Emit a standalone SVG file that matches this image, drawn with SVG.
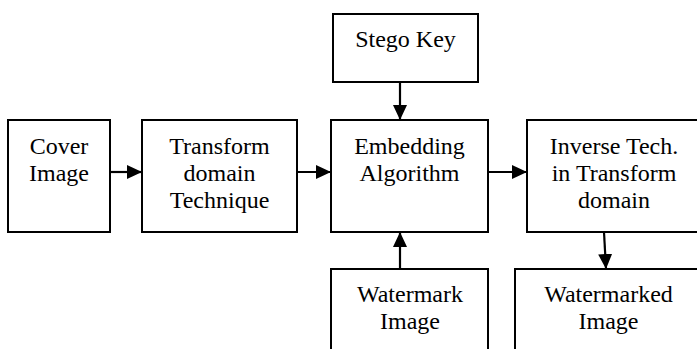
<svg xmlns="http://www.w3.org/2000/svg" width="697" height="349" viewBox="0 0 697 349">
<style>
.box{fill:#fff;stroke:#000;stroke-width:2}
.lbl{font-family:"Liberation Serif","Times New Roman",serif;font-size:24px;fill:#000;text-anchor:middle}
.conn{stroke:#000;stroke-width:2.2;fill:none;marker-end:url(#ah)}
</style>
<defs>
<marker id="ah" markerUnits="userSpaceOnUse" markerWidth="16" markerHeight="16" refX="15" refY="7" orient="auto">
<path d="M0,0 L15,7 L0,14 Z" fill="#000"/>
</marker>
</defs>
<rect width="697" height="349" fill="#fff"/>
<g id="cover">
<rect class="box" x="8" y="120" width="102" height="112"/>
<text class="lbl" x="59" y="154">Cover</text>
<text class="lbl" x="59" y="181">Image</text>
</g>
<g id="transform">
<rect class="box" x="142" y="120" width="155" height="112"/>
<text class="lbl" x="219.5" y="154">Transform</text>
<text class="lbl" x="219.5" y="181">domain</text>
<text class="lbl" x="219.5" y="208">Technique</text>
</g>
<g id="stego">
<rect class="box" x="333" y="14" width="145" height="68"/>
<text class="lbl" x="405.5" y="47">Stego Key</text>
</g>
<g id="embedding">
<rect class="box" x="331" y="120" width="157" height="112"/>
<text class="lbl" x="409.5" y="154">Embedding</text>
<text class="lbl" x="409.5" y="181">Algorithm</text>
</g>
<g id="inverse">
<rect class="box" x="527" y="120" width="174" height="112"/>
<text class="lbl" x="614" y="154">Inverse Tech.</text>
<text class="lbl" x="614" y="181">in Transform</text>
<text class="lbl" x="614" y="208">domain</text>
</g>
<g id="watermark">
<rect class="box" x="331" y="269" width="157" height="100"/>
<text class="lbl" x="410" y="302">Watermark</text>
<text class="lbl" x="410" y="329">Image</text>
</g>
<g id="watermarked">
<rect class="box" x="515" y="269" width="187" height="100"/>
<text class="lbl" x="608.5" y="302">Watermarked</text>
<text class="lbl" x="608.5" y="329">Image</text>
</g>
<g id="connectors">
<line class="conn" x1="110" y1="172" x2="142" y2="172"/>
<line class="conn" x1="297" y1="172" x2="331" y2="172"/>
<line class="conn" x1="488" y1="172" x2="527" y2="172"/>
<line class="conn" x1="400" y1="82" x2="400" y2="120"/>
<line class="conn" x1="400" y1="269" x2="400" y2="232"/>
<line class="conn" x1="604" y1="232" x2="606" y2="269"/>
</g>
</svg>
